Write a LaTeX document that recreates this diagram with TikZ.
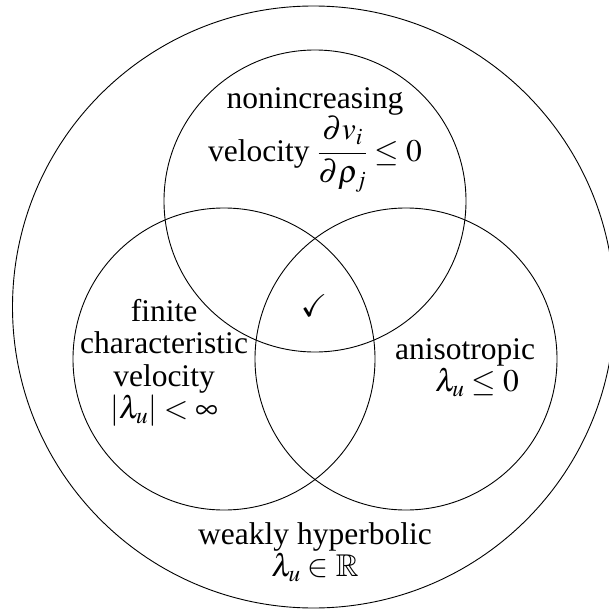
\documentclass[tikz,border=0pt]{standalone}
\usepackage{amsmath}
\usepackage{amssymb}
\usepackage{mathptmx}
\usepackage{fontspec}
\setmainfont{Liberation Serif}
\tikzset{
  ring/.style={draw=black, line width=0.9pt},
  lbl/.style={align=center, inner sep=0pt, font=\fontsize{31.5}{32.5}\selectfont}
}
\begin{document}
\begin{tikzpicture}[x=1pt,y=-1pt]
\useasboundingbox (0,0) rectangle (608,610);
\coordinate (outer) at (313.5,307);
\coordinate (ctop) at (315,201);
\coordinate (cleft) at (224,359);
\coordinate (cright) at (406,359);
\draw[ring] (outer) circle[radius=301];
\draw[ring] (ctop) circle[radius=151];
\draw[ring] (cleft) circle[radius=151];
\draw[ring] (cright) circle[radius=151];
\node[lbl] (ttop) at (315,140) {nonincreasing\\ velocity $\dfrac{\partial v_i}{\partial \rho_j}\le 0$};
\node[lbl] (tleft) at (164,363) {finite\\ characteristic\\ velocity\\ $|\lambda_u|<\infty$};
\node[lbl] (tright) at (465,367.5) {anisotropic\\ \hspace*{24pt}$\lambda_u\le 0$};
\node[lbl] (tout) at (315,552) {weakly hyperbolic\\ $\lambda_u\in\mathbb{R}$};
\node[lbl] (check) at (314,306) {$\checkmark$};
\end{tikzpicture}
\end{document}
